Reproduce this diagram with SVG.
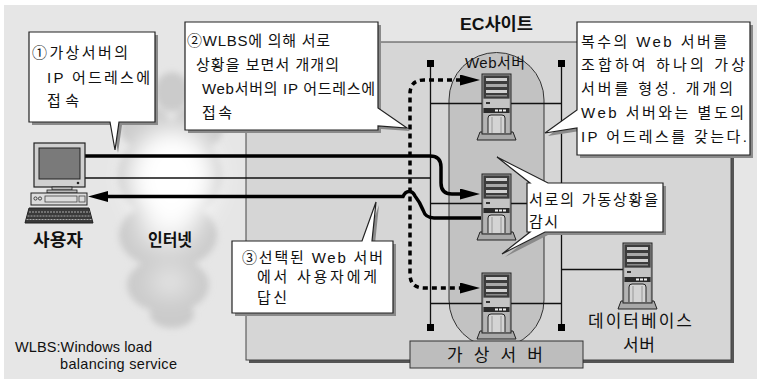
<svg xmlns="http://www.w3.org/2000/svg" width="757" height="379" viewBox="0 0 757 379">
<defs>
<style>
 text { font-family: "Liberation Sans", "Noto Sans CJK KR", sans-serif; fill: #111; }
 .ct { font-size: 15px; }
 .lb { font-size: 17px; }
 .b { font-weight: bold; }
 .call { fill: #fff; stroke: #222; stroke-width: 1.2; }
 .shadow { fill: #8a8a8a; }
 .bus { stroke: #111; stroke-width: 1.3; fill: none; }
 .thick { stroke: #000; stroke-width: 3.5; fill: none; }
 .dash { stroke: #000; stroke-width: 3.5; fill: none; stroke-dasharray: 5 4; }
</style>
<marker id="ah" markerUnits="userSpaceOnUse" viewBox="0 0 20 11" markerWidth="20" markerHeight="11" refX="10" refY="5.5" orient="auto-start-reverse">
 <path d="M0,0 L20,5.5 L0,11 Z" fill="#000"/>
</marker>
<filter id="soft" x="-30%" y="-30%" width="160%" height="160%"><feGaussianBlur stdDeviation="3"/></filter>
<filter id="glow" x="-60%" y="-60%" width="220%" height="220%"><feGaussianBlur stdDeviation="12"/></filter>
<!-- tower server icon, origin = top-left of the cabinet -->
<g id="srv">
 <path d="M-5,66 L-2,58 H31 L34,66 Z" fill="#a8a8a8" stroke="#222" stroke-width="1"/>
 <rect x="0" y="0" width="29" height="60" fill="#9c9c9c" stroke="#222" stroke-width="1"/>
 <rect x="1.5" y="1.5" width="26" height="23" fill="#3c3c3c"/>
 <rect x="4" y="4" width="21" height="3" fill="#d0d0d0"/>
 <rect x="4" y="10" width="21" height="3" fill="#a8a8a8"/>
 <rect x="4" y="16" width="21" height="3" fill="#d0d0d0"/>
 <rect x="4" y="21" width="21" height="1.5" fill="#8a8a8a"/>
 <rect x="1.5" y="25" width="26" height="9" fill="#c4c4c4"/>
 <rect x="4" y="28" width="4" height="2" fill="#333"/>
 <rect x="1.5" y="34" width="26" height="5" fill="#2a2a2a"/>
 <rect x="13" y="35.5" width="3" height="2" fill="#eee"/>
 <rect x="17" y="35.5" width="3" height="2" fill="#eee"/>
 <rect x="21" y="35.5" width="3" height="2" fill="#eee"/>
 <rect x="1.5" y="39" width="26" height="20" fill="#b4b4b4"/>
 <path d="M6,59 V44 Q6,41 9,41 H20 Q23,41 23,44 V59" fill="#d4d4d4" stroke="#222" stroke-width="1"/>
 <line x1="10" y1="43" x2="10" y2="59" stroke="#888" stroke-width="0.8"/>
 <line x1="19" y1="43" x2="19" y2="59" stroke="#888" stroke-width="0.8"/>
</g>
</defs>

<!-- backdrop -->
<rect x="0" y="0" width="757" height="379" fill="#fff"/>
<rect x="4" y="5" width="753" height="374" fill="#e6e6e6"/>

<!-- internet cloud -->
<g id="internet">
 <g filter="url(#soft)" fill="#cbcbcb">
  <ellipse cx="172" cy="92" rx="17" ry="20"/>
  <ellipse cx="146" cy="128" rx="26" ry="22"/>
  <ellipse cx="197" cy="128" rx="26" ry="22"/>
  <ellipse cx="170" cy="175" rx="52" ry="45"/>
  <ellipse cx="168" cy="235" rx="49" ry="34"/>
  <ellipse cx="168" cy="285" rx="41" ry="28"/>
  <ellipse cx="172" cy="314" rx="22" ry="14"/>
 </g>
 <g filter="url(#glow)" fill="#fff">
  <ellipse cx="172" cy="178" rx="44" ry="50"/>
  <ellipse cx="168" cy="232" rx="30" ry="16" opacity="0.7"/>
  <ellipse cx="170" cy="282" rx="20" ry="13" opacity="0.6"/>
 </g>
 <text class="lb b" x="148" y="246" textLength="44" lengthAdjust="spacingAndGlyphs">인터넷</text>
</g>

<!-- EC site enclosure -->
<g id="ec-site">
 <rect x="249" y="45" width="485" height="318" fill="#555"/>
 <rect x="246" y="42" width="485" height="318" fill="#d6d6d6" stroke="#444" stroke-width="1"/>
 <text class="lb b" x="460" y="30" textLength="73" lengthAdjust="spacingAndGlyphs">EC사이트</text>
</g>

<!-- load-balanced web server lane -->
<g id="web-lane">
 <path d="M449,100 A47.5,47.5 0 0 1 544,100 V300 A47.5,47.5 0 0 1 449,300 Z" fill="#c2c2c2" stroke="#333" stroke-width="1"/>
 <text class="ct" x="465" y="68" textLength="60" lengthAdjust="spacing">Web서버</text>
</g>

<!-- connectors -->
<g id="connectors">
 <!-- LAN buses with terminators -->
 <line class="bus" x1="430.5" y1="63" x2="430.5" y2="327"/>
 <line class="bus" x1="561.5" y1="63" x2="561.5" y2="327"/>
 <rect x="427" y="60" width="7" height="7" fill="#000"/>
 <rect x="427" y="324" width="7" height="7" fill="#000"/>
 <rect x="558" y="60" width="7" height="7" fill="#000"/>
 <rect x="558" y="324" width="7" height="7" fill="#000"/>
 <line class="bus" x1="430" y1="103.5" x2="561" y2="103.5"/>
 <line class="bus" x1="430" y1="203.5" x2="561" y2="203.5"/>
 <line class="bus" x1="430" y1="303.5" x2="561" y2="303.5"/>
 <line class="bus" x1="561" y1="269.5" x2="623" y2="269.5"/>
 <!-- user link into the site -->
 <line class="bus" x1="85" y1="178" x2="430" y2="178"/>
 <!-- request from the user -->
 <path class="thick" d="M85,156 H430 Q441,156 441,167 V183 Q441,194 452,194 H470" marker-end="url(#ah)"/>
 <!-- WLBS distribution to the other servers -->
 <path class="dash" d="M470,80 H424 Q410,80 410,94 V274 Q410,288 424,288 H470" marker-start="url(#ah)" marker-end="url(#ah)"/>
 <!-- reply back to the user -->
 <path class="thick" d="M98,196.5 H403 C406,190 412,190 415,196 C419,201 421,205 423,210 C425,216 428,218 434,218 H481" marker-start="url(#ah)"/>
</g>

<!-- servers -->
<g id="server-1"><use href="#srv" x="482" y="74"/></g>
<g id="server-2"><use href="#srv" x="482" y="174"/></g>
<g id="server-3"><use href="#srv" x="482" y="273"/></g>
<g id="db-server">
 <use href="#srv" x="623" y="243"/>
 <text class="lb" x="588" y="327" textLength="104" lengthAdjust="spacing">데이터베이스</text>
 <text class="lb" x="623" y="351" textLength="32" lengthAdjust="spacing">서버</text>
</g>

<!-- virtual server label -->
<g id="vs-label">
 <rect x="410" y="341" width="173" height="27" fill="#bdbdbd" stroke="#333" stroke-width="1"/>
 <text class="lb" x="447" y="361" textLength="96" lengthAdjust="spacing">가 상 서 버</text>
</g>

<!-- user workstation -->
<g id="user">
 <rect x="34" y="143" width="51" height="44" fill="#d0d0d0" stroke="#222" stroke-width="1.2"/>
 <rect x="39" y="148" width="41" height="31" fill="#7a7a7a" stroke="#222" stroke-width="1"/>
 <circle cx="78" cy="183" r="1.3" fill="#222"/>
 <rect x="52" y="187" width="20" height="3" fill="#bbb" stroke="#222" stroke-width="0.8"/>
 <rect x="47" y="190" width="30" height="3" fill="#bbb" stroke="#222" stroke-width="0.8"/>
 <rect x="31" y="193" width="56" height="12" fill="#dcdcdc" stroke="#222" stroke-width="1"/>
 <circle cx="35.5" cy="198.5" r="1.6" fill="none" stroke="#222" stroke-width="0.8"/>
 <circle cx="40" cy="198.5" r="1.6" fill="none" stroke="#222" stroke-width="0.8"/>
 <rect x="45" y="196" width="32" height="6" fill="none" stroke="#444" stroke-width="0.8"/>
 <rect x="79" y="196" width="6" height="6" fill="none" stroke="#444" stroke-width="0.8"/>
 <path d="M29,208 H89 L93,223 H25 Z" fill="#3a3a3a" stroke="#222" stroke-width="1"/>
 <path d="M29,212 H90 M27.5,216 H91 M26.5,219.5 H92" stroke="#aaa" stroke-width="1" stroke-dasharray="2 1"/>
 <text class="lb b" x="33" y="246" textLength="50" lengthAdjust="spacingAndGlyphs">사용자</text>
</g>

<!-- callout 1 -->
<g id="callout-1">
 <path class="shadow" transform="translate(3,3)" d="M29,32 H155 V122 H119 L115,150 L110,122 H29 Z"/>
 <path class="call" d="M29,32 H155 V122 H119 L115,150 L110,122 H29 Z"/>
 <text class="ct" x="32" y="58" textLength="96" lengthAdjust="spacing">①가상서버의</text>
 <text class="ct" x="47" y="83" textLength="103" lengthAdjust="spacing">IP 어드레스에</text>
 <text class="ct" x="47" y="106" textLength="32" lengthAdjust="spacing">접속</text>
</g>

<!-- callout 2 -->
<g id="callout-2">
 <path class="shadow" transform="translate(3,3)" d="M185,22 H378 V108 L407,128 L378,126 V130 H185 Z"/>
 <path class="call" d="M185,22 H378 V108 L407,128 L378,126 V130 H185 Z"/>
 <text class="ct" x="187" y="46" textLength="143" lengthAdjust="spacing">②WLBS에 의해 서로</text>
 <text class="ct" x="196" y="70" textLength="143" lengthAdjust="spacing">상황을 보면서 개개의</text>
 <text class="ct" x="202" y="94" textLength="173" lengthAdjust="spacing">Web서버의 IP 어드레스에</text>
 <text class="ct" x="202" y="118" textLength="30" lengthAdjust="spacing">접속</text>
</g>

<!-- virtual server note -->
<g id="callout-vs">
 <path class="shadow" transform="translate(3,3)" d="M577,22 H750 V155 H577 V128 L545,133 L577,110 Z"/>
 <path class="call" d="M577,22 H750 V155 H577 V128 L545,133 L577,110 Z"/>
 <text class="ct" x="581" y="47" textLength="146" lengthAdjust="spacing">복수의 Web 서버를</text>
 <text class="ct" x="581" y="70" textLength="164" lengthAdjust="spacing">조합하여 하나의 가상</text>
 <text class="ct" x="581" y="94" textLength="152" lengthAdjust="spacing">서버를 형성. 개개의</text>
 <text class="ct" x="581" y="118" textLength="163" lengthAdjust="spacing">Web 서버와는 별도의</text>
 <text class="ct" x="581" y="142" textLength="166" lengthAdjust="spacing">IP 어드레스를 갖는다.</text>
</g>

<!-- monitoring note -->
<g id="callout-monitor">
 <path class="shadow" transform="translate(3,3)" d="M527,183 H530 L497,157 L548,183 H663 V232 H545 L502,254 L530,232 H527 Z"/>
 <path class="call" d="M527,183 H530 L497,157 L548,183 H663 V232 H545 L502,254 L530,232 H527 Z"/>
 <text class="ct" x="529" y="205" textLength="129" lengthAdjust="spacing">서로의 가동상황을</text>
 <text class="ct" x="529" y="227" textLength="29" lengthAdjust="spacing">감시</text>
</g>

<!-- callout 3 -->
<g id="callout-3">
 <path class="shadow" transform="translate(3,3)" d="M232,241 H362 L376,202 L372,241 H393 V313 H232 Z"/>
 <path class="call" d="M232,241 H362 L376,202 L372,241 H393 V313 H232 Z"/>
 <text class="ct" x="242" y="263" textLength="141" lengthAdjust="spacing">③선택된 Web 서버</text>
 <text class="ct" x="257" y="282" textLength="120" lengthAdjust="spacing">에서 사용자에게</text>
 <text class="ct" x="257" y="303" textLength="30" lengthAdjust="spacing">답신</text>
</g>

<!-- legend -->
<g id="legend">
 <text x="15" y="352" font-size="14.5" textLength="137" lengthAdjust="spacing">WLBS:Windows load</text>
 <text x="60" y="369" font-size="14.5" textLength="117" lengthAdjust="spacing">balancing service</text>
</g>
</svg>
